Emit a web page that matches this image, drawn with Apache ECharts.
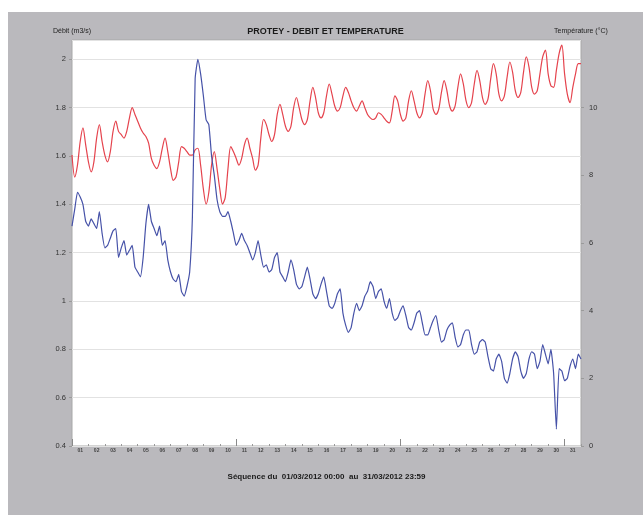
<!DOCTYPE html>
<html>
<head>
<meta charset="utf-8">
<script src="https://cdn.jsdelivr.net/npm/echarts@6/dist/echarts.min.js"></script>
<style>
  html, body { margin: 0; padding: 0; background: #ffffff; }
  #chart { position: absolute; left: 8px; top: 12px; width: 635px; height: 503px; background: #bab9bd; }
</style>
</head>
<body>
<div id="chart"></div>
<script>
// Sampling step of the station records (hours), March 2012
const stepHours = 4;
const dayLabels = ['01','02','03','04','05','06','07','08','09','10','11','12','13','14','15','16',
  '17','18','19','20','21','22','23','24','25','26','27','28','29','30','31'];
const debitTicks = [0.4, 0.6, 0.8, 1, 1.2, 1.4, 1.6, 1.8, 2];
const tempTicks = [0, 2, 4, 6, 8, 10];

// Débit (m3/s), every 4 h from 01/03 00:00
const debit = [
  1.31, 1.38, 1.45, 1.43, 1.40, 1.33,
  1.31, 1.34, 1.32, 1.30, 1.37, 1.28,
  1.22, 1.23, 1.26, 1.29, 1.30, 1.18,
  1.22, 1.25, 1.19, 1.21, 1.23, 1.14,
  1.12, 1.10, 1.18, 1.32, 1.40, 1.33,
  1.30, 1.27, 1.31, 1.23, 1.25, 1.17,
  1.12, 1.09, 1.08, 1.11, 1.04, 1.02,
  1.06, 1.12, 1.35, 1.92, 2.00, 1.94,
  1.85, 1.75, 1.73, 1.60, 1.52, 1.42,
  1.37, 1.35, 1.35, 1.37, 1.33, 1.28,
  1.23, 1.25, 1.28, 1.25, 1.23, 1.20,
  1.17, 1.20, 1.25, 1.19, 1.14, 1.15,
  1.12, 1.13, 1.18, 1.20, 1.12, 1.10,
  1.08, 1.12, 1.17, 1.13, 1.07, 1.05,
  1.06, 1.10, 1.14, 1.09, 1.03, 1.01,
  1.03, 1.07, 1.10, 1.04, 0.98, 0.97,
  0.99, 1.03, 1.05, 0.95, 0.90, 0.87,
  0.89, 0.95, 0.99, 0.96, 0.98, 1.02,
  1.04, 1.08, 1.06, 1.01, 1.04, 1.05,
  1.00, 0.97, 1.01, 0.95, 0.92, 0.93,
  0.96, 0.98, 0.94, 0.89, 0.88, 0.91,
  0.95, 0.96, 0.91, 0.86, 0.86, 0.89,
  0.92, 0.94, 0.88, 0.83, 0.84, 0.88,
  0.90, 0.91, 0.85, 0.81, 0.82, 0.86,
  0.88, 0.88, 0.82, 0.78, 0.79, 0.83,
  0.84, 0.83, 0.77, 0.72, 0.71, 0.76,
  0.78, 0.75, 0.68, 0.66, 0.70, 0.76,
  0.79, 0.77, 0.71, 0.68, 0.70, 0.76,
  0.79, 0.78, 0.72, 0.75, 0.82, 0.78,
  0.74, 0.80, 0.70, 0.47, 0.72, 0.71,
  0.67, 0.68, 0.73, 0.76, 0.72, 0.78, 0.76
];

// Température (°C), every 4 h from 01/03 00:00
const temperature = [
  8.6, 7.95, 8.3, 9.0, 9.4, 8.9,
  8.4, 8.1, 8.4, 9.1, 9.5, 9.0,
  8.6, 8.4, 8.7, 9.3, 9.6, 9.3,
  9.2, 9.1, 9.3, 9.7, 10.0, 9.8,
  9.6, 9.4, 9.25, 9.15, 8.95, 8.5,
  8.3, 8.2, 8.4, 8.8, 9.1, 8.7,
  8.2, 7.85, 7.95, 8.4, 8.85, 8.8,
  8.7, 8.6, 8.6, 8.75, 8.8, 8.3,
  7.6, 7.15, 7.5, 8.3, 8.7, 8.2,
  7.6, 7.15, 7.35, 8.2, 8.85, 8.7,
  8.5, 8.3, 8.5, 8.9, 9.1, 8.8,
  8.5, 8.15, 8.3, 9.1, 9.65, 9.5,
  9.2, 9.0, 9.2, 9.8, 10.1, 9.8,
  9.45, 9.3, 9.45, 10.0, 10.3, 10.0,
  9.65, 9.5, 9.65, 10.2, 10.6, 10.3,
  9.85, 9.7, 9.85, 10.35, 10.7, 10.4,
  10.05, 9.9, 10.0, 10.35, 10.6, 10.45,
  10.2, 10.0, 9.9, 10.05, 10.2, 10.0,
  9.8, 9.7, 9.65, 9.7, 9.85, 9.8,
  9.7, 9.6, 9.55, 9.9, 10.35, 10.2,
  9.8, 9.6, 9.7, 10.2, 10.5, 10.2,
  9.85, 9.7, 9.85, 10.4, 10.8, 10.5,
  9.95, 9.8, 9.95, 10.45, 10.8, 10.5,
  10.05, 9.9, 10.05, 10.6, 11.0, 10.7,
  10.2, 10.0, 10.15, 10.7, 11.1, 10.8,
  10.3, 10.1, 10.25, 10.85, 11.3, 11.0,
  10.4, 10.2, 10.35, 10.9, 11.35, 11.05,
  10.5, 10.3, 10.45, 11.05, 11.5, 11.2,
  10.6, 10.4, 10.5, 11.0, 11.5, 11.7,
  11.0, 10.65, 10.6, 11.1, 11.6, 11.85,
  11.0, 10.4, 10.15, 10.6, 11.0, 11.3, 11.3
];

const totalHours = dayLabels.length * 24;
const dayTicks = dayLabels.map((d, i) => i * 24).concat([totalHours]);
const dayCentres = dayLabels.map((d, i) => i * 24 + 12);
const decadeTicks = [0, 240, 480, 720];

const toPairs = arr => arr.map((v, i) => [i * stepHours, v]);

const font = '"Liberation Sans", Arial, sans-serif';
const chart = echarts.init(document.getElementById('chart'), null, { renderer: 'canvas' });

chart.setOption({
  animation: false,
  title: {
    text: 'PROTEY - DEBIT ET TEMPERATURE',
    left: 'center',
    top: 10,
    textStyle: { fontFamily: font, fontSize: 9, fontWeight: 'bold', color: '#1a1a1a' }
  },
  grid: {
    left: 64, top: 28, right: 62, bottom: 69,
    show: true, backgroundColor: '#ffffff', borderColor: '#a8a8a8', borderWidth: 1,
    outerBoundsMode: 'none'
  },
  xAxis: [{
    type: 'value',
    min: 0, max: totalHours,
    name: 'Séquence du  01/03/2012 00:00  au  31/03/2012 23:59',
    nameLocation: 'middle',
    nameGap: 27,
    nameTextStyle: { fontFamily: font, fontSize: 8, fontWeight: 'bold', color: '#1a1a1a' },
    axisLine: { show: false, onZero: false },
    splitLine: { show: false },
    axisTick: { show: true, inside: true, length: 2, customValues: dayTicks, lineStyle: { color: '#9a9a9a' } },
    axisLabel: {
      customValues: dayCentres,
      margin: 2,
      fontFamily: font, fontSize: 5, fontWeight: 'bold', color: '#444',
      formatter: v => dayLabels[Math.floor(v / 24)]
    }
  }, {
    type: 'value',
    min: 0, max: totalHours,
    position: 'bottom',
    axisLine: { show: false, onZero: false },
    splitLine: { show: false },
    axisLabel: { show: false },
    axisTick: { show: true, inside: true, length: 7, customValues: decadeTicks, lineStyle: { color: '#8a8a8a' } }
  }],
  yAxis: [{
    type: 'value',
    min: 0.4, max: 2.08, interval: 0.2,
    position: 'left',
    name: 'Débit (m3/s)',
    nameLocation: 'end',
    nameGap: 5,
    nameTextStyle: { fontFamily: font, fontSize: 7, color: '#222' },
    axisLine: { show: false, onZero: false },
    axisTick: { show: true, length: 3, lineStyle: { color: '#9a9a9a' } },
    axisLabel: {
      showMaxLabel: false, margin: 6,
      fontFamily: font, fontSize: 7.5, color: '#333',
      formatter: v => debitTicks.some(t => Math.abs(t - v) < 1e-6) ? String(Math.round(v * 10) / 10) : ''
    },
    splitLine: { show: true, lineStyle: { color: '#e2e2e2', width: 1 } }
  }, {
    type: 'value',
    min: 0, max: 12, interval: 2,
    position: 'right',
    name: 'Température (°C)',
    nameLocation: 'end',
    nameGap: 5,
    nameTextStyle: { fontFamily: font, fontSize: 7, color: '#222' },
    axisLine: { show: false, onZero: false },
    axisTick: { show: true, length: 3, lineStyle: { color: '#9a9a9a' } },
    axisLabel: {
      showMaxLabel: false, margin: 8,
      fontFamily: font, fontSize: 7.5, color: '#333',
      formatter: v => tempTicks.includes(v) ? String(v) : ''
    },
    splitLine: { show: false }
  }],
  series: [{
    name: 'Température',
    type: 'line',
    xAxisIndex: 0, yAxisIndex: 1,
    data: toPairs(temperature),
    showSymbol: false,
    smooth: 0.3,
    lineStyle: { color: '#e5434d', width: 1.2 },
    z: 2
  }, {
    name: 'Débit',
    type: 'line',
    xAxisIndex: 0, yAxisIndex: 0,
    data: toPairs(debit),
    showSymbol: false,
    smooth: 0.15,
    lineStyle: { color: '#4652a8', width: 1.2 },
    z: 3
  }]
});
</script>
</body>
</html>
